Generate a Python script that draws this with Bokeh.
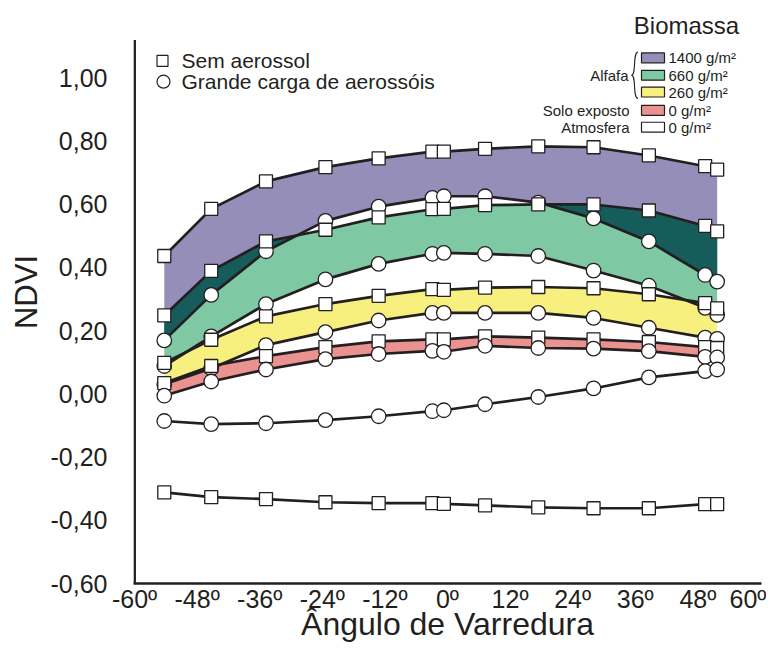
import numpy as np
from bokeh.plotting import figure
from bokeh.models import Range1d, FixedTicker, Label
from bokeh.embed import file_html
from bokeh.resources import INLINE

# ---------------- data ----------------
angles = [-54.3, -45.3, -34.8, -23.4, -13.2, -2.9, -0.7, 7.2, 17.4, 28.0, 38.6, 49.4, 51.7]

alfafa1400_sem = [0.436, 0.585, 0.672, 0.717, 0.745, 0.766, 0.766, 0.775, 0.783, 0.780, 0.754, 0.720, 0.709]
alfafa1400_aer = [0.169, 0.313, 0.451, 0.547, 0.592, 0.620, 0.625, 0.625, 0.605, 0.555, 0.482, 0.376, 0.355]
alfafa660_sem = [0.248, 0.389, 0.482, 0.519, 0.558, 0.584, 0.585, 0.597, 0.599, 0.599, 0.580, 0.531, 0.514]
alfafa660_aer = [0.088, 0.182, 0.284, 0.362, 0.411, 0.443, 0.446, 0.443, 0.436, 0.390, 0.342, 0.272, 0.250]
alfafa260_sem = [0.098, 0.171, 0.245, 0.284, 0.310, 0.331, 0.329, 0.336, 0.338, 0.334, 0.315, 0.287, 0.270]
alfafa260_aer = [0.030, 0.080, 0.154, 0.195, 0.232, 0.256, 0.256, 0.256, 0.256, 0.240, 0.209, 0.178, 0.174]
solo_sem = [0.034, 0.088, 0.119, 0.148, 0.166, 0.172, 0.172, 0.182, 0.178, 0.172, 0.164, 0.148, 0.145]
solo_aer = [-0.006, 0.039, 0.077, 0.110, 0.126, 0.136, 0.133, 0.152, 0.145, 0.143, 0.135, 0.117, 0.115]
atmos_sem = [-0.312, -0.327, -0.333, -0.343, -0.346, -0.346, -0.348, -0.353, -0.359, -0.362, -0.362, -0.349, -0.349]
atmos_aer = [-0.086, -0.096, -0.093, -0.083, -0.071, -0.055, -0.052, -0.033, -0.010, 0.017, 0.052, 0.072, 0.077]

x_ticks = [-60, -48, -36, -24, -12, 0, 12, 24, 36, 48, 60]
x_tick_labels = ["-60º", "-48º", "-36º", "-24º", "-12º", "0º", "12º", "24º", "36º", "48º", "60º"]
y_ticks = [-0.6, -0.4, -0.2, 0.0, 0.2, 0.4, 0.6, 0.8, 1.0]
y_tick_labels = ["-0,60", "-0,40", "-0,20", "0,00", "0,20", "0,40", "0,60", "0,80", "1,00"]

legend_groups = ["Alfafa", "", "", "Solo exposto", "Atmosfera"]
legend_labels = ["1400 g/m²", "660 g/m²", "260 g/m²", "0 g/m²", "0 g/m²"]
legend_colors = ["#958EB9", "#7EC9A3", "#F8F07E", "#EA9290", "#FFFFFF"]

PURPLE, GREEN, YELLOW, PINK = legend_colors[:4]
TEAL = "#165C5A"
ORANGE = "#E0821E"
INK = "#231F20"
FONT = "Liberation Sans"

# ---------------- layout helpers (canvas px -> data) ----------------
W, H = 766, 644
FL, FR, FT, FB = 133, 761, 0, 589          # frame edges in canvas px
PX_PER_UNIT = (FB - 78) / 1.6               # 1,00 sits at y=78 px, -0,60 at 589 px
X0, X1 = -60.2, 60.2
Y0 = -0.6
Y1 = 1.0 + (78 - FT) / PX_PER_UNIT


def dx(sx):
    return X0 + (sx - FL) * (X1 - X0) / (FR - FL)


def dy(sy):
    return Y1 - (sy - FT) / PX_PER_UNIT


p = figure(width=W, height=H, output_backend="svg", toolbar_location=None,
           x_range=Range1d(X0, X1), y_range=Range1d(Y0, Y1),
           min_border_left=FL, min_border_right=W - FR,
           min_border_top=FT, min_border_bottom=H - FB)
p.outline_line_color = None
p.grid.visible = False
p.background_fill_color = "white"
p.border_fill_color = "white"

for ax, ticks, labels in ((p.xaxis[0], x_ticks, x_tick_labels), (p.yaxis[0], y_ticks, y_tick_labels)):
    ax.ticker = FixedTicker(ticks=ticks)
    ax.major_label_overrides = {t: l for t, l in zip(ticks, labels)}
    ax.major_tick_line_color = None
    ax.minor_tick_line_color = None
    ax.major_tick_out = 0
    ax.major_tick_in = 0
    ax.axis_line_color = INK
    ax.axis_line_width = 2.5
    ax.major_label_text_font = FONT
    ax.major_label_text_font_size = "25px"
    ax.major_label_text_color = INK
    ax.axis_label_text_font = FONT
    ax.axis_label_text_font_style = "normal"
    ax.axis_label_text_color = INK

p.xaxis.major_label_standoff = 1
p.xaxis.axis_label = "Ângulo de Varredura"
p.xaxis.axis_label_text_font_size = "32px"
p.xaxis.axis_label_standoff = -10

p.yaxis.axis_line_color = None          # drawn below so it stops at the top of the plot box
p.yaxis.major_label_standoff = 26
p.yaxis.axis_label = "NDVI"
p.yaxis.axis_label_text_font_size = "31px"
p.yaxis.axis_label_standoff = 4

p.segment(x0=[dx(134.2)], y0=[Y0], x1=[dx(134.2)], y1=[dy(40)], line_color=INK, line_width=2.5)


# ---------------- bands ----------------
def grid_with_crossings(x, series):
    xs = set(x)
    for i in range(len(x) - 1):
        for a in range(len(series)):
            for b in range(a + 1, len(series)):
                d0 = series[a][i] - series[b][i]
                d1 = series[a][i + 1] - series[b][i + 1]
                if d0 * d1 < 0:
                    t = d0 / (d0 - d1)
                    xs.add(x[i] + t * (x[i + 1] - x[i]))
    return np.array(sorted(xs))


def overlap(x, top_a, bot_a, top_b, bot_b):
    g = grid_with_crossings(x, [top_a, bot_a, top_b, bot_b])
    ta, ba, tb, bb = [np.interp(g, x, s) for s in (top_a, bot_a, top_b, bot_b)]
    lo = np.maximum(ba, bb)
    hi = np.minimum(ta, tb)
    return g, lo, np.maximum(lo, hi)


p.varea(x=angles, y1=alfafa1400_aer, y2=alfafa1400_sem, fill_color=PURPLE)
p.varea(x=angles, y1=alfafa660_aer, y2=alfafa660_sem, fill_color=GREEN)
p.varea(x=angles, y1=alfafa260_aer, y2=alfafa260_sem, fill_color=YELLOW)
p.varea(x=angles, y1=solo_aer, y2=solo_sem, fill_color=PINK)

g, lo, hi = overlap(angles, alfafa1400_sem, alfafa1400_aer, alfafa660_sem, alfafa660_aer)
p.varea(x=g, y1=lo, y2=hi, fill_color=TEAL)
g, lo, hi = overlap(angles, alfafa260_sem, alfafa260_aer, solo_sem, solo_aer)
p.varea(x=g, y1=lo, y2=hi, fill_color=ORANGE)

# ---------------- lines + markers ----------------
series = [
    (alfafa1400_sem, "square"), (alfafa1400_aer, "circle"),
    (alfafa660_sem, "square"), (alfafa660_aer, "circle"),
    (alfafa260_sem, "square"), (alfafa260_aer, "circle"),
    (solo_sem, "square"), (solo_aer, "circle"),
    (atmos_aer, "circle"), (atmos_sem, "square"),
]
for ys, mk in series:
    p.line(angles, ys, line_color=INK, line_width=2.7)
    p.scatter(angles, ys, marker=mk, size=13 if mk == "square" else 14.5,
              fill_color="white", line_color=INK, line_width=1.3)

# ---------------- top-left legend ----------------
p.scatter([dx(162)], [dy(61)], marker="square", size=11, fill_color="white", line_color=INK, line_width=1.2)
p.scatter([dx(163)], [dy(82)], marker="circle", size=13, fill_color="white", line_color=INK, line_width=1.2)
for txt, sy in (("Sem aerossol", 61), ("Grande carga de aerossóis", 82)):
    p.add_layout(Label(x=dx(181), y=dy(sy), text=txt, text_font=FONT, text_font_size="21px",
                       text_color=INK, text_baseline="middle", text_align="left"))

# ---------------- biomass legend ----------------
p.add_layout(Label(x=dx(686), y=dy(25), text="Biomassa", text_font=FONT, text_font_size="24px",
                   text_color=INK, text_baseline="middle", text_align="center"))
rows_y = [58, 75.5, 92.5, 111, 128]
p.quad(left=[dx(641)] * 5, right=[dx(664)] * 5,
       top=[dy(r - 5) for r in rows_y], bottom=[dy(r + 5) for r in rows_y],
       fill_color=legend_colors, line_color=INK, line_width=1.2)
for lab, grp, r in zip(legend_labels, legend_groups, rows_y):
    p.add_layout(Label(x=dx(668), y=dy(r), text=lab, text_font=FONT, text_font_size="15px",
                       text_color=INK, text_baseline="middle", text_align="left"))
    if grp:
        gy = rows_y[1] if grp == "Alfafa" else r
        gx = 628 if grp == "Alfafa" else 629
        p.add_layout(Label(x=dx(gx), y=dy(gy), text=grp, text_font=FONT, text_font_size="15px",
                           text_color=INK, text_baseline="middle", text_align="right"))
# brace
p.bezier(x0=[dx(637.5), dx(631)], y0=[dy(52), dy(75.5)],
         x1=[dx(631), dx(637.5)], y1=[dy(75.5), dy(99)],
         cx0=[dx(632), dx(636)], cy0=[dy(52), dy(75.5)],
         cx1=[dx(636), dx(632)], cy1=[dy(75.5), dy(99)],
         line_color=INK, line_width=1.1)

open("out.html", "w").write(file_html(p, INLINE))
